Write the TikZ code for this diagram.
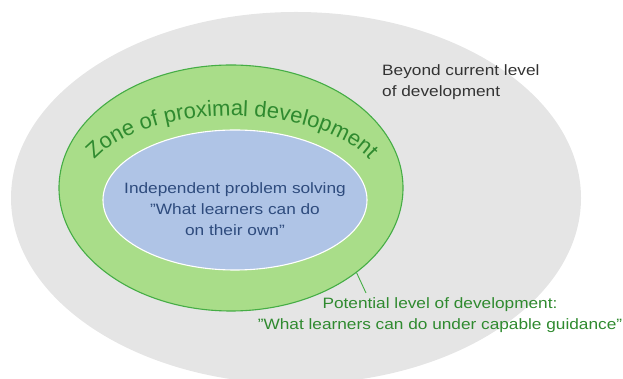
\documentclass[tikz,border=0pt]{standalone}
\usepackage{fontspec}
\setmainfont{Liberation Sans}[FakeStretch=1.15]
\newfontfamily\zonefont{Liberation Sans}
\usetikzlibrary{shapes.geometric,decorations.text}
\definecolor{greyzone}{HTML}{E5E5E5}
\definecolor{zpdfill}{HTML}{A9DD89}
\definecolor{zpdline}{HTML}{45AD45}
\definecolor{zpdtext}{HTML}{2F8A2F}
\definecolor{indfill}{HTML}{AFC4E6}
\definecolor{indtext}{HTML}{2E4B7D}
\definecolor{beyondtext}{HTML}{333333}
\tikzset{
  zone/.style={ellipse, inner sep=0pt},
  label15/.style={font=\fontsize{15}{21}\selectfont, inner sep=0pt}
}
\begin{document}
\begin{tikzpicture}[x=1pt,y=1pt]
\useasboundingbox (0,0) rectangle (623,379);
\node[zone, fill=greyzone, minimum width=570pt, minimum height=372pt] (beyond) at (296,181) {};
\node[zone, fill=zpdfill, draw=zpdline, line width=1.1pt, minimum width=344pt, minimum height=246pt] (zpd) at (231,191) {};
\node[zone, fill=indfill, draw=white, line width=1.1pt, minimum width=264pt, minimum height=140pt] (indep) at (235,179) {};
\path[decorate, decoration={text along path, text align=center, text color=zpdtext,
  text={|\zonefont\fontsize{22}{27}\selectfont|Zone of proximal development}}]
  (232,190) ++(178:150 and 73) arc[start angle=178, end angle=2, x radius=150, y radius=73];
\node[label15, text=indtext, align=center] (indeptext) at (235,170)
  {Independent problem solving\\"What learners can do\\on their own"};
\node[label15, text=beyondtext, align=left, anchor=west] (beyondtext) at (382,297)
  {Beyond current level\\of development};
\node[label15, text=zpdtext, align=center] (potential) at (440,64)
  {Potential level of development:\\"What learners can do under capable guidance"};
\coordinate (pointer) at (366,86);
\draw[zpdline, line width=0.9pt] (zpd.-34) -- (pointer);
\end{tikzpicture}
\end{document}
